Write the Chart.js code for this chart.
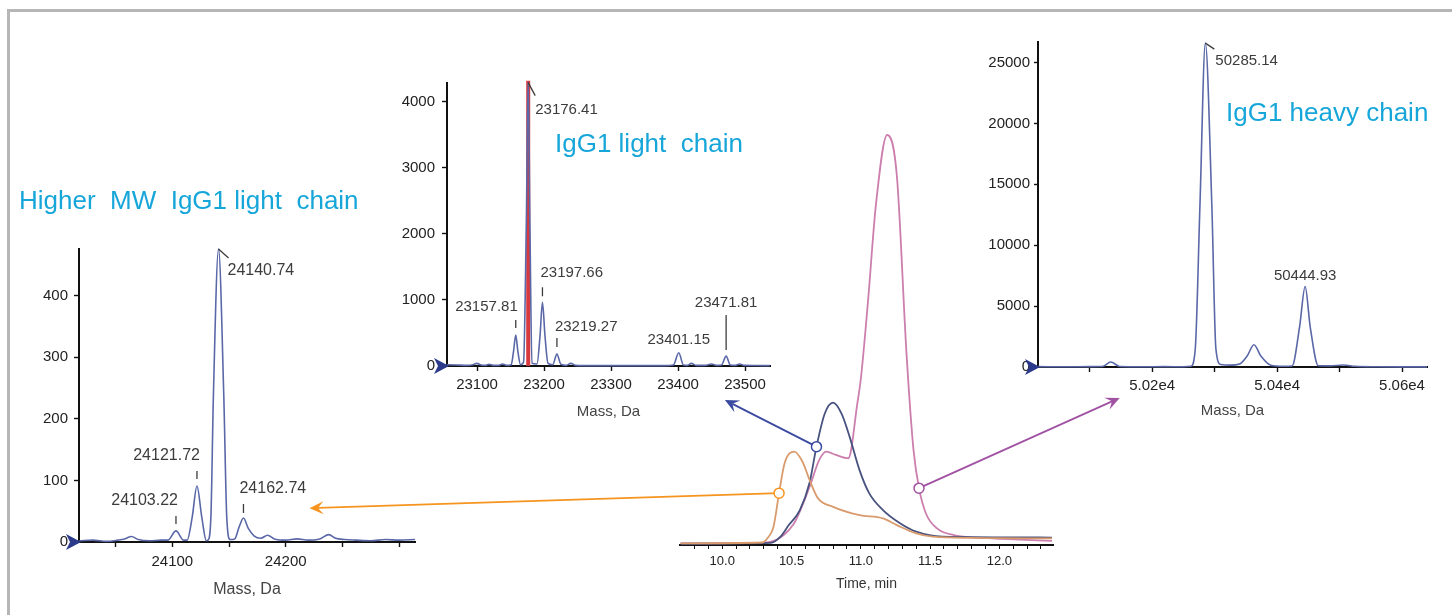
<!DOCTYPE html>
<html>
<head>
<meta charset="utf-8">
<script src="https://cdn.jsdelivr.net/npm/chart.js@4.4.0/dist/chart.umd.min.js"></script>
<style>
  html, body { margin: 0; padding: 0; background: #fff; overflow: hidden; }
  #stage { position: relative; width: 1452px; height: 615px; }
  canvas { position: absolute; left: 0; top: 0; }
  .frame { position: absolute; left: 7px; top: 9px; width: 1445px; height: 606px;
           border-top: 3px solid #b6b6b6; border-left: 3px solid #b6b6b6; box-sizing: border-box; }
  .title { position: absolute; font-family: "Liberation Sans", Arial, sans-serif; font-size: 26px;
           line-height: 26px; color: #17a6d9; white-space: pre; }
</style>
</head>
<body>
<div id="stage">
  <div class="frame"></div>
  <canvas id="specA" width="1452" height="615"></canvas>
  <canvas id="specB" width="1452" height="615"></canvas>
  <canvas id="specC" width="1452" height="615"></canvas>
  <canvas id="chrom" width="1452" height="615"></canvas>
  <div class="title" style="left:19px;top:187px">Higher  MW  IgG1 light  chain</div>
  <div class="title" style="left:555px;top:130px">IgG1 light  chain</div>
  <div class="title" style="left:1226px;top:99px">IgG1 heavy chain</div>
</div>
<script>
// ---- deconvoluted spectrum: higher MW light chain ----
const massA = [24018, 24030, 24042, 24052, 24058, 24064, 24070, 24080, 24090, 24096,
  24103.22, 24110, 24113, 24117.5, 24121.72, 24126, 24130, 24131.5, 24134, 24136.2,
  24140.74, 24145.4, 24148, 24151, 24155, 24159, 24162.74, 24167, 24172, 24178,
  24184, 24190, 24200, 24210, 24220, 24230, 24238, 24244, 24252, 24262,
  24275, 24288, 24300, 24314];
const intensityA = [2, 3, 1, 3, 5, 9, 4, 2, 3, 3,
  18, 3, 3, 40, 91, 40, 2, 3, 40, 236,
  476, 236, 40, 4, 5, 25, 39, 22, 10, 6,
  11, 5, 3, 5, 3, 5, 12, 6, 4, 3,
  2, 4, 3, 4];
const xTicksA = [24050, 24100, 24150, 24200, 24250, 24300];
const xLabelsA = [24100, 24200];
const yTicksA = [0, 100, 200, 300, 400];
const peaksA = ['24103.22', '24121.72', '24140.74', '24162.74'];

// ---- deconvoluted spectrum: IgG1 light chain ----
const massB = [23055, 23070, 23085, 23094, 23100, 23106, 23113, 23118, 23124, 23132,
  23138, 23145, 23151, 23154.5, 23157.81, 23161, 23165, 23169.5, 23173.5, 23176.41,
  23179, 23182, 23189.5, 23194, 23197.66, 23201.5, 23206, 23213, 23219.27, 23225,
  23233, 23240, 23247, 23260, 23300, 23340, 23380, 23393, 23401.15, 23408,
  23414, 23420, 23427, 23440, 23450, 23458, 23465, 23471.81, 23478, 23485,
  23492, 23499, 23515, 23537];
const intensityB = [20, 15, 10, 20, 40, 15, 10, 25, 10, 10,
  30, 10, 20, 220, 470, 220, 20, 60, 2100, 4290,
  2100, 40, 30, 450, 965, 450, 40, 20, 180, 30,
  10, 40, 10, 5, 5, 5, 5, 15, 200, 15,
  10, 40, 10, 10, 30, 10, 15, 150, 15, 10,
  30, 10, 8, 5];
const cursorMassB = 23176.41;
const xTicksB = [23100, 23200, 23300, 23400, 23500];
const yTicksB = [0, 1000, 2000, 3000, 4000];
const peaksB = ['23157.81', '23176.41', '23197.66', '23219.27', '23401.15', '23471.81'];

// ---- deconvoluted spectrum: IgG1 heavy chain ----
const massC = [50017, 50060, 50100, 50120, 50133.8, 50148, 50180, 50220, 50250, 50262,
  50269, 50276.5, 50285.14, 50295.5, 50302, 50310, 50325, 50340, 50352, 50363,
  50374, 50390, 50410, 50424, 50436, 50444.93, 50453, 50466, 50485, 50506,
  50525, 50560, 50600, 50640];
const intensityC = [30, 20, 30, 40, 410, 40, 20, 30, 20, 60,
  1500, 13300, 26600, 13300, 1500, 200, 150, 250, 900, 1830,
  900, 150, 60, 80, 3300, 6600, 3300, 100, 90, 160,
  60, 20, 10, 10];
const xTicksC = [50100, 50200, 50300, 50400, 50500, 50600];
const xLabelsC = [50200, 50400, 50600];
const yTicksC = [0, 5000, 10000, 15000, 20000, 25000];
const peaksC = ['50285.14', '50444.93'];

// ---- extracted chromatograms (relative intensity) ----
const timeOrange = [9.70, 10.29, 10.33, 10.37, 10.41, 10.45, 10.52, 10.58, 10.63, 10.69, 10.80, 10.99, 11.16, 11.26, 11.40, 11.52, 11.80, 12.38];
const orange = [0.4, 0.6, 1.8, 4.4, 12.5, 19.7, 22.5, 20.0, 15.7, 11.3, 9.2, 7.2, 6.4, 4.8, 2.8, 2.0, 1.7, 1.6];
const timeBlue = [9.70, 10.35, 10.42, 10.48, 10.56, 10.63, 10.68, 10.74, 10.80, 10.86, 10.92, 10.99, 11.06, 11.16, 11.28, 11.40, 11.59, 12.38];
const blue = [0.3, 0.5, 2.0, 4.8, 8.4, 15.0, 23.7, 31.7, 34.3, 31.7, 26.0, 18.1, 12.5, 8.4, 5.3, 3.2, 2.0, 1.8];
const timePink = [9.70, 10.27, 10.51, 10.63, 10.70, 10.75, 10.82, 10.91, 10.93, 10.97, 11.00, 11.05, 11.11, 11.19, 11.26, 11.33, 11.38, 11.42, 11.47, 11.55, 11.67, 11.95, 12.38];
const pink = [0.4, 0.5, 4.8, 14.0, 20.5, 22.5, 21.7, 20.9, 22.9, 33.0, 40.0, 58.0, 82.3, 98.8, 89.0, 46.0, 23.0, 13.7, 7.6, 4.0, 2.4, 1.6, 1.0];
const timeTicks = [9.8, 9.9, 10.0, 10.1, 10.2, 10.3, 10.4, 10.5, 10.6, 10.7, 10.8, 10.9, 11.0,
  11.1, 11.2, 11.3, 11.4, 11.5, 11.6, 11.7, 11.8, 11.9, 12.0, 12.1, 12.2, 12.3];
const timeLabels = [10.0, 10.5, 11.0, 11.5, 12.0];

// label placement (pixel offsets from the peak top)
const placeA = {
  '24103.22': {align: 'right', dx: 2, dy: -30, tick: [-7, -15]},
  '24121.72': {align: 'right', dx: 3, dy: -30, tick: [-7, -15]},
  '24140.74': {align: 'left', dx: 9, dy: 22, leader: [10, 9]},
  '24162.74': {align: 'left', dx: -4, dy: -29, tick: [-5, -14]}
};
const placeB = {
  '23157.81': {align: 'right', dx: 2, dy: -28, tick: [-7, -15]},
  '23176.41': {align: 'left', dx: 7, dy: 27, leader: [7, 13]},
  '23197.66': {align: 'left', dx: -2, dy: -29, tick: [-6, -15]},
  '23219.27': {align: 'left', dx: -2, dy: -27, tick: [-7, -16]},
  '23401.15': {align: 'center', dx: 0, dy: -13},
  '23471.81': {align: 'center', dx: 0, dy: -53, tick: [-6, -41]}
};
const placeC = {
  '50285.14': {align: 'left', dx: 10, dy: 18, leader: [9, 6]},
  '50444.93': {align: 'center', dx: 0, dy: -11}
};

const FONT = '"Liberation Sans", Arial, sans-serif';
Chart.defaults.font.family = FONT;
Chart.defaults.color = '#222';

const peakLabelPlugin = {
  id: 'peakLabels',
  afterDatasetsDraw(chart, args, opts) {
    const {ctx} = chart;
    const xs = chart.scales.x, ys = chart.scales.y;
    ctx.save();
    ctx.font = opts.size + 'px ' + FONT;
    ctx.fillStyle = '#3c3c3c';
    ctx.strokeStyle = '#3c3c3c';
    ctx.lineWidth = 1.3;
    ctx.textBaseline = 'middle';
    opts.items.forEach(it => {
      const px = xs.getPixelForValue(it.x), py = ys.getPixelForValue(it.y);
      const p = it.place;
      if (p.tick) {
        ctx.beginPath(); ctx.moveTo(px, py + p.tick[0]); ctx.lineTo(px, py + p.tick[1]); ctx.stroke();
      }
      if (p.leader) {
        ctx.beginPath(); ctx.moveTo(px, py); ctx.lineTo(px + p.leader[0], py + p.leader[1]); ctx.stroke();
      }
      ctx.textAlign = p.align;
      ctx.fillText(it.text, px + p.dx, py + p.dy);
    });
    ctx.restore();
  }
};

// little navy arrow at the origin of each spectrum
const originPlugin = {
  id: 'origin',
  afterDraw(chart) {
    const {ctx} = chart;
    const x0 = chart.chartArea.left, y0 = chart.scales.y.getPixelForValue(0);
    ctx.save();
    ctx.fillStyle = '#2c3a8c';
    ctx.beginPath();
    ctx.moveTo(x0 + 2, y0);
    ctx.lineTo(x0 - 13, y0 - 8);
    ctx.lineTo(x0 - 9, y0);
    ctx.lineTo(x0 - 13, y0 + 8);
    ctx.closePath();
    ctx.fill();
    ctx.restore();
  }
};

function axisLook() {
  return {
    grid: {display: true, drawOnChartArea: false, drawTicks: true, tickLength: 5, color: '#111', tickWidth: 1.4},
    border: {display: true, color: '#111', width: 2}
  };
}

function makeSpectrum(id, s) {
  const labels = s.peaks.map(t => {
    const m = parseFloat(t);
    return {x: m, y: s.intensity[s.mass.indexOf(m)], text: t, place: s.place[t]};
  });
  const datasets = [{
    data: s.mass.map((m, i) => ({x: m, y: s.intensity[i]})),
    borderColor: '#5a68a8', borderWidth: 1.6, pointRadius: 0,
    cubicInterpolationMode: 'monotone', clip: false
  }];
  if (s.cursor) {
    datasets.push({
      data: [{x: s.cursor, y: 0}, {x: s.cursor, y: s.yMax * 1.008}],
      borderColor: '#d8393f', borderWidth: 4, pointRadius: 0, clip: false
    });
  }
  const look = axisLook();
  return new Chart(document.getElementById(id), {
    type: 'line',
    data: {datasets},
    options: {
      responsive: false, animation: false, events: [],
      layout: {padding: s.pad, autoPadding: false},
      plugins: {legend: {display: false}, tooltip: {enabled: false},
        peakLabels: {items: labels, size: s.labelSize}},
      scales: {
        x: {
          type: 'linear', bounds: 'data', min: s.xMin, max: s.xMax,
          afterBuildTicks: sc => { sc.ticks = s.xTicks.map(v => ({value: v})); },
          afterFit: sc => { sc.height = 60; },
          grid: look.grid, border: look.border,
          ticks: {font: {size: 15}, color: '#222', padding: s.xPad, maxRotation: 0, autoSkip: false,
            callback: v => (s.xLabels.includes(v) ? s.fmt(v) : '')},
          title: {display: true, text: 'Mass, Da', color: '#444', font: {size: s.titleSize},
            padding: {top: 0, bottom: s.titlePad}}
        },
        y: {
          type: 'linear', bounds: 'data', min: 0, max: s.yMax,
          afterBuildTicks: sc => { sc.ticks = s.yTicks.map(v => ({value: v})); },
          afterFit: sc => { sc.width = 60; },
          grid: Object.assign({}, look.grid, {tickLength: s.yTl}), border: look.border,
          ticks: {font: {size: 15}, color: '#222', padding: s.yPad, autoSkip: false,
            callback: v => String(v)}
        }
      }
    },
    plugins: [peakLabelPlugin, originPlugin]
  });
}

const chartA = makeSpectrum('specA', {
  mass: massA, intensity: intensityA, peaks: peaksA, place: placeA,
  xMin: 24017.7, xMax: 24314, yMax: 476, xTicks: xTicksA, xLabels: xLabelsA, yTicks: yTicksA,
  fmt: v => String(v), pad: {left: 19, right: 1037, top: 249, bottom: 13},
  labelSize: 16, titleSize: 16, titlePad: 2.4, xPad: 6, yPad: 6, yTl: 5
});
const chartB = makeSpectrum('specB', {
  mass: massB, intensity: intensityB, peaks: peaksB, place: placeB, cursor: cursorMassB,
  xMin: 23055.2, xMax: 23537.3, yMax: 4285, xTicks: xTicksB, xLabels: xTicksB, yTicks: yTicksB,
  fmt: v => String(v), pad: {left: 387, right: 682, top: 83, bottom: 189},
  labelSize: 15, titleSize: 15, titlePad: 5, xPad: 5, yPad: 7, yTl: 5
});
const chartC = makeSpectrum('specC', {
  mass: massC, intensity: intensityC, peaks: peaksC, place: placeC,
  xMin: 50017.2, xMax: 50640, yMax: 26690, xTicks: xTicksC, xLabels: xLabelsC, yTicks: yTicksC,
  fmt: v => (v / 10000).toFixed(2) + 'e4', pad: {left: 978, right: 25, top: 42, bottom: 188},
  labelSize: 15, titleSize: 15, titlePad: 7, xPad: 5, yPad: 4, yTl: 4
});

// arrows from chromatogram points to the spectra
const links = [
  {trace: 0, point: 4, target: chartA, x: 24221, y: 55, color: '#f5941f'},
  {trace: 1, point: 6, target: chartB, x: 23470, y: -515, color: '#3a4aa0'},
  {trace: 2, point: 17, target: chartC, x: 50148, y: -2540, color: '#a152a3'}
];

const arrowPlugin = {
  id: 'arrows',
  afterDraw(chart) {
    const {ctx} = chart;
    ctx.save();
    links.forEach(l => {
      const pt = chart.data.datasets[l.trace].data[l.point];
      const fx = chart.scales.x.getPixelForValue(pt.x), fy = chart.scales.y.getPixelForValue(pt.y);
      const tx = l.target.scales.x.getPixelForValue(l.x), ty = l.target.scales.y.getPixelForValue(l.y);
      const a = Math.atan2(ty - fy, tx - fx), c = Math.cos(a), s = Math.sin(a);
      const L = 14, W = 6.5;
      ctx.strokeStyle = l.color; ctx.fillStyle = l.color; ctx.lineWidth = 1.8;
      ctx.beginPath(); ctx.moveTo(fx, fy); ctx.lineTo(tx - c * L * 0.6, ty - s * L * 0.6); ctx.stroke();
      ctx.beginPath();
      ctx.moveTo(tx, ty);
      ctx.lineTo(tx - c * L + s * W, ty - s * L - c * W);
      ctx.lineTo(tx - c * L * 0.6, ty - s * L * 0.6);
      ctx.lineTo(tx - c * L - s * W, ty - s * L + c * W);
      ctx.closePath(); ctx.fill();
      ctx.beginPath(); ctx.arc(fx, fy, 5, 0, Math.PI * 2);
      ctx.fillStyle = '#fff'; ctx.fill(); ctx.lineWidth = 1.5; ctx.stroke();
    });
    ctx.restore();
  }
};

const chromLook = axisLook();
const chartD = new Chart(document.getElementById('chrom'), {
  type: 'line',
  data: {
    datasets: [
      {data: timeOrange.map((t, i) => ({x: t, y: orange[i]})), borderColor: '#d99a6c'},
      {data: timeBlue.map((t, i) => ({x: t, y: blue[i]})), borderColor: '#48527f'},
      {data: timePink.map((t, i) => ({x: t, y: pink[i]})), borderColor: '#cc7fae'}
    ].map(d => Object.assign(d, {borderWidth: 1.8, pointRadius: 0, cubicInterpolationMode: 'monotone', clip: false}))
  },
  options: {
    responsive: false, animation: false, events: [],
    layout: {padding: {left: 680, right: 399, top: 130, bottom: 10}, autoPadding: false},
    plugins: {legend: {display: false}, tooltip: {enabled: false}},
    scales: {
      x: {
        type: 'linear', bounds: 'data', min: 9.695, max: 12.387,
        afterBuildTicks: sc => { sc.ticks = timeTicks.map(v => ({value: v})); },
        afterFit: sc => { sc.height = 60; },
        grid: Object.assign({}, chromLook.grid, {tickLength: 4, tickWidth: 1}), border: chromLook.border,
        ticks: {font: {size: 13}, color: '#222', padding: 5, maxRotation: 0, autoSkip: false,
          callback: v => (timeLabels.some(l => Math.abs(l - v) < 1e-6) ? v.toFixed(1) : '')},
        title: {display: true, text: 'Time, min', color: '#333', font: {size: 14}, padding: {top: 0, bottom: 12.6}}
      },
      y: {type: 'linear', display: false, min: 0, max: 100}
    }
  },
  plugins: [arrowPlugin]
});
</script>
</body>
</html>
